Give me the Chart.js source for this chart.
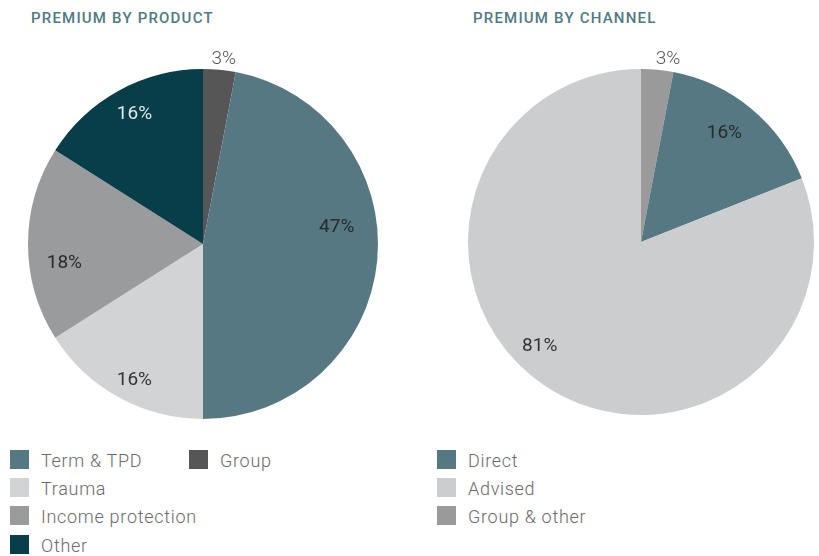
<!DOCTYPE html>
<html>
<head>
<meta charset="utf-8">
<script src="https://cdn.jsdelivr.net/npm/chart.js@4.4.1/dist/chart.umd.min.js"></script>
<style>
  html, body { margin: 0; padding: 0; background: #fff; }
  body { width: 819px; height: 556px; position: relative; overflow: hidden; font-family: Roboto, "Liberation Sans", sans-serif; }
  .title { position: absolute; top: 9px; font-size: 15px; font-weight: 500; letter-spacing: 1.2px; color: #4e7b82; }
  .wrap { position: absolute; }
  .legend { position: absolute; font-size: 18px; font-weight: 300; letter-spacing: 0.7px; color: #6a6a6a; }
  .item { position: absolute; height: 20px; line-height: 20px; white-space: nowrap; }
  .item span.box { position: absolute; left: 0; top: 0; width: 19px; height: 19px; }
  .item span.txt { position: absolute; top: 1px; }
</style>
</head>
<body>

<div class="title" style="left:31px;">PREMIUM BY PRODUCT</div>
<div class="title" style="left:473px;">PREMIUM BY CHANNEL</div>

<div class="wrap" style="left:0px; top:40px; width:406px; height:408px;"><canvas id="productChart"></canvas></div>
<div class="wrap" style="left:430px; top:40px; width:389px; height:400px;"><canvas id="channelChart"></canvas></div>

<div class="legend" id="productLegend"></div>
<div class="legend" id="channelLegend"></div>

<script>

// Data - drawn clockwise from 12 o'clock

const productLabels = ["Group", "Term & TPD", "Trauma", "Income protection", "Other"];
const productValues = [3, 47, 16, 18, 16];
const productColors = ["#565656", "#557883", "#d2d3d5", "#9a9b9c", "#083e4a"];

const channelLabels = ["Group & other", "Direct", "Advised"];
const channelValues = [3, 16, 81];
const channelColors = ["#9a9a9b", "#557883", "#cbcdce"];


// Percentage labels drawn on the slices

const sliceLabels = {

    id: "sliceLabels",

    afterDatasetsDraw(chart, args, opts) {

        const ctx = chart.ctx;
        const meta = chart.getDatasetMeta(0);
        const values = chart.data.datasets[0].data;

        meta.data.forEach((arc, i) => {

            const p = opts.place[i];
            const mid = (arc.startAngle + arc.endAngle) / 2 + p[1] * Math.PI / 180;
            const r = arc.outerRadius * p[0];

            ctx.save();
            ctx.font = p[0] > 1 ? "300 19px Roboto" : "400 19px Roboto";
            ctx.fillStyle = opts.colors[i];
            ctx.textAlign = "center";
            ctx.textBaseline = "middle";
            ctx.fillText(values[i] + "%", arc.x + Math.cos(mid) * r, arc.y + Math.sin(mid) * r);
            ctx.restore();

        });
    }
};


function makePie(id, labels, values, colors, padding, place, textColors) {

    return new Chart(document.getElementById(id), {

        type: "pie",

        data: {
            labels: labels,
            datasets: [{
                data: values,
                backgroundColor: colors,
                borderWidth: 0
            }]
        },

        options: {
            responsive: true,
            maintainAspectRatio: false,
            animation: false,
            layout: { padding: padding },
            plugins: {
                legend: { display: false },
                tooltip: { enabled: false },
                sliceLabels: { place: place, colors: textColors }
            }
        },

        plugins: [sliceLabels]
    });
}

makePie(
    "productChart", productLabels, productValues, productColors,
    { left: 28, right: 28, top: 29, bottom: 29 },
    [[1.06, 1], [0.77, -12.6], [0.87, -2], [0.8, -8], [0.84, 1]],
    ["#555555", "#2a2a2a", "#333333", "#2a2a2a", "#e4e8e9"]
);

makePie(
    "channelChart", channelLabels, channelValues, channelColors,
    { left: 38, right: 5, top: 29, bottom: 25 },
    [[1.07, 3], [0.79, -2], [0.84, 10]],
    ["#555555", "#2a2a2a", "#333333"]
);


// HTML legends

function buildLegend(id, left, labels, colors, order, cells) {

    const box = document.getElementById(id);
    box.style.left = left + "px";
    box.style.top = "450px";

    order.forEach((idx, k) => {
        const item = document.createElement("div");
        item.className = "item";
        item.style.left = cells[k][0] + "px";
        item.style.top = cells[k][1] + "px";
        item.innerHTML =
            '<span class="box" style="background:' + colors[idx] + '"></span>' +
            '<span class="txt" style="left:31px">' + labels[idx] + '</span>';
        box.appendChild(item);
    });
}

buildLegend("productLegend", 10, productLabels, productColors,
    [1, 0, 2, 3, 4],
    [[0, 0], [179, 0], [0, 27.5], [0, 56], [0, 84.5]]);

buildLegend("channelLegend", 437, channelLabels, channelColors,
    [1, 2, 0],
    [[0, 0], [0, 27.5], [0, 56]]);

</script>
</body>
</html>
